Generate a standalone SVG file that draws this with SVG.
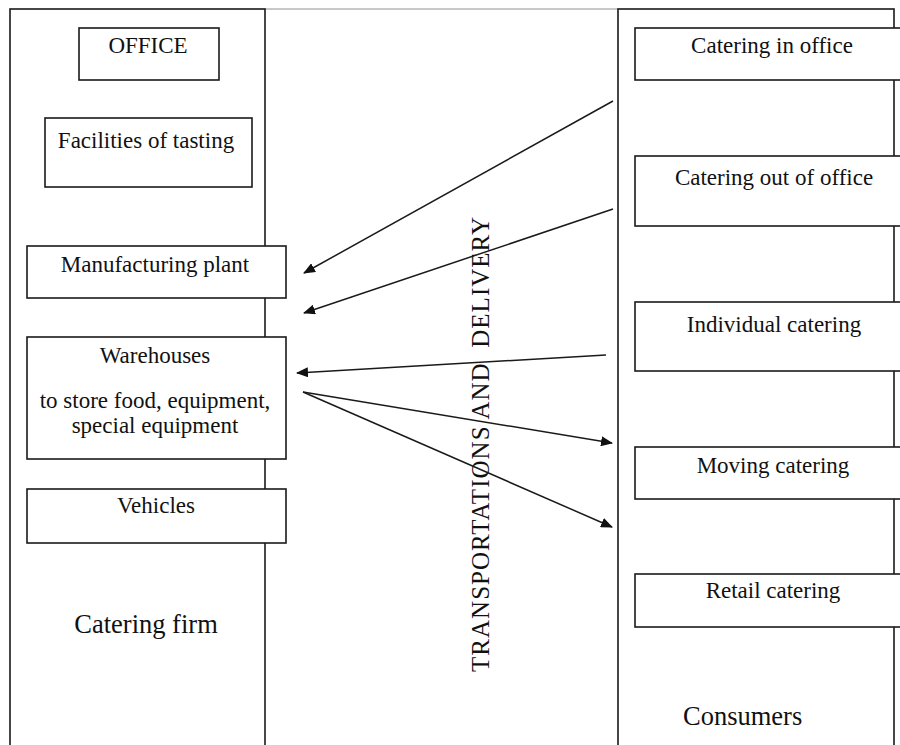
<svg xmlns="http://www.w3.org/2000/svg" width="900" height="745" viewBox="0 0 900 745">
<style>
.panel{fill:none;stroke:#1a1a1a;stroke-width:1.6}
.box{fill:#fff;stroke:#1a1a1a;stroke-width:1.6}
.t{font-family:"Liberation Serif","Times New Roman",serif;font-size:23px;fill:#111;text-anchor:middle}
.big{font-family:"Liberation Serif","Times New Roman",serif;font-size:26.5px;fill:#111}
.vert{font-family:"Liberation Serif","Times New Roman",serif;font-size:25px;fill:#111}
.conn{stroke:#1a1a1a;stroke-width:1.5;fill:none;marker-end:url(#ah)}
</style>
<defs>
<marker id="ah" viewBox="0 0 12 10" refX="11" refY="5" markerWidth="12" markerHeight="10" markerUnits="userSpaceOnUse" orient="auto">
<path d="M0,0 L12,5 L0,10 Z" fill="#111"/>
</marker>
</defs>
<rect width="900" height="745" fill="#fff"/>
<line x1="265" y1="9" x2="618" y2="9" stroke="#c8c8c8" stroke-width="2"/>
<g id="catering-firm">
<rect class="panel" x="10" y="9" width="255" height="760"/>
<text class="big" x="146" y="633" text-anchor="middle">Catering firm</text>
</g>
<g id="consumers">
<rect class="panel" x="618" y="9" width="276" height="760"/>
<text class="big" x="683" y="725">Consumers</text>
</g>
<g id="office"><rect class="box" x="79" y="28" width="140" height="52"/><text class="t" x="148" y="53">OFFICE</text></g>
<g id="facilities"><rect class="box" x="45" y="118" width="207" height="69"/><text class="t" x="146" y="148">Facilities of tasting</text></g>
<g id="manufacturing"><rect class="box" x="27" y="246" width="259" height="52"/><text class="t" x="155" y="272">Manufacturing plant</text></g>
<g id="warehouses"><rect class="box" x="27" y="337" width="259" height="122"/><text class="t" x="155" y="363">Warehouses</text><text class="t" x="155" y="408">to store food, equipment,</text><text class="t" x="155" y="433">special equipment</text></g>
<g id="vehicles"><rect class="box" x="27" y="489" width="259" height="54"/><text class="t" x="156" y="513">Vehicles</text></g>
<g id="catering-in-office"><rect class="box" x="635" y="28" width="275" height="52"/><text class="t" x="772" y="53">Catering in office</text></g>
<g id="catering-out-of-office"><rect class="box" x="635" y="156" width="275" height="70"/><text class="t" x="774" y="185">Catering out of office</text></g>
<g id="individual-catering"><rect class="box" x="635" y="302" width="275" height="69"/><text class="t" x="774" y="332">Individual catering</text></g>
<g id="moving-catering"><rect class="box" x="635" y="447" width="275" height="52"/><text class="t" x="773" y="473">Moving catering</text></g>
<g id="retail-catering"><rect class="box" x="635" y="574" width="275" height="53"/><text class="t" x="773" y="598">Retail catering</text></g>
<g id="transport-label">
<text class="vert" transform="translate(489,672) rotate(-90)" textLength="455" lengthAdjust="spacing" xml:space="preserve">TRANSPORTATIONS AND  DELIVERY</text>
</g>
<g id="connectors">
<line class="conn" x1="613" y1="101" x2="304" y2="273"/>
<line class="conn" x1="613" y1="209" x2="304" y2="313"/>
<line class="conn" x1="606" y1="355" x2="297" y2="373"/>
<line class="conn" x1="303" y1="392" x2="612" y2="443"/>
<line class="conn" x1="303" y1="392" x2="612" y2="527"/>
</g>
</svg>
